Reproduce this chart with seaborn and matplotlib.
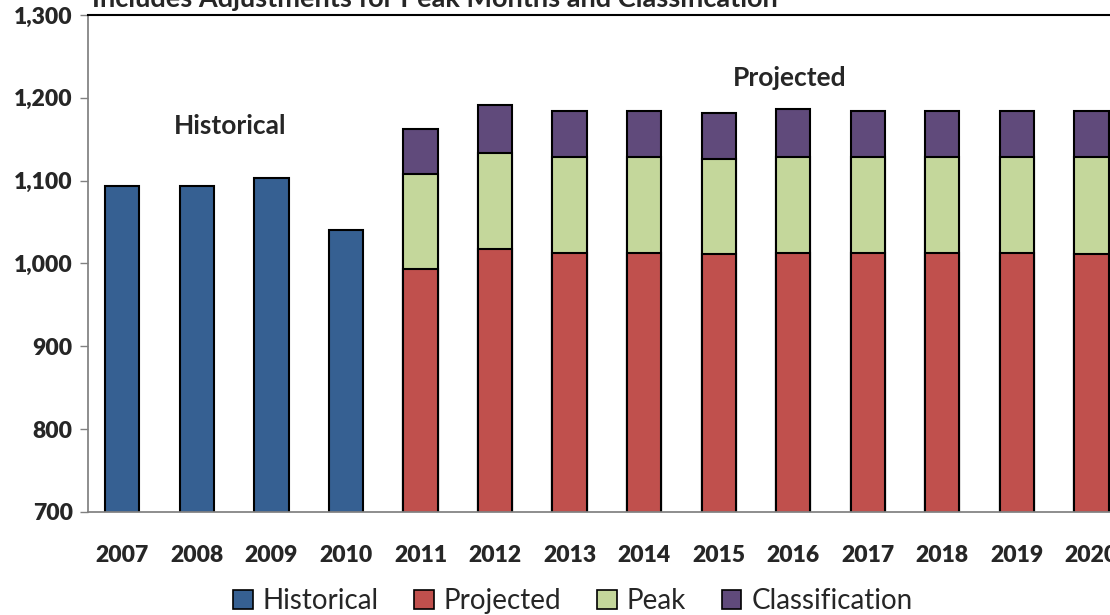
import matplotlib
matplotlib.use("Agg")
import matplotlib.pyplot as plt
import matplotlib.ticker as ticker
from matplotlib.patches import Patch
import pandas as pd
import seaborn as sns

years = [str(y) for y in range(2007, 2021)]
hist_years = ["2007", "2008", "2009", "2010"]
historical = [1094, 1094, 1103, 1040]
proj_years = [str(y) for y in range(2011, 2021)]
projected = [993, 1017, 1013, 1013, 1011, 1013, 1013, 1013, 1013, 1011]
peak = [115, 117, 115, 115, 115, 115, 115, 115, 115, 117]
classification = [54, 57, 56, 56, 56, 58, 56, 56, 56, 56]

colors = {"Historical": "#366092", "Projected": "#C0504D",
          "Peak": "#C4D79B", "Classification": "#604A7B"}

sns.set_theme(style="white")
plt.rcParams["font.family"] = ["Lato", "DejaVu Sans"]

df_hist = pd.DataFrame({"year": hist_years, "value": historical})
df_proj = pd.DataFrame({"year": proj_years, "projected": projected,
                        "peak": peak, "classification": classification})
# cumulative tops, drawn back to front so the layers look stacked
df_proj["peak_top"] = df_proj.projected + df_proj.peak
df_proj["class_top"] = df_proj.peak_top + df_proj.classification

fig = plt.figure(figsize=(11.1, 6.15), dpi=100)
ax = fig.add_axes([0.0793, 0.1675, 0.9207, 0.8081])

bar_kw = dict(order=years, width=0.46, edgecolor="black", linewidth=1.5,
              saturation=1, ax=ax)
sns.barplot(data=df_proj, x="year", y="class_top", color=colors["Classification"], **bar_kw)
sns.barplot(data=df_proj, x="year", y="peak_top", color=colors["Peak"], **bar_kw)
sns.barplot(data=df_proj, x="year", y="projected", color=colors["Projected"], **bar_kw)
sns.barplot(data=df_hist, x="year", y="value", color=colors["Historical"], **bar_kw)

ax.set_ylim(700, 1300)
ax.set_xlim(-0.46, 13.25)
ax.yaxis.set_major_locator(ticker.MultipleLocator(100))
ax.yaxis.set_major_formatter(ticker.StrMethodFormatter("{x:,.0f}"))
ax.set_xlabel("")
ax.set_ylabel("")

ax.tick_params(axis="y", which="major", left=True, length=6, width=1,
               color="#808080", labelsize=16.5, pad=5)
ax.tick_params(axis="x", length=0, labelsize=16.5, pad=24)
for lbl in ax.get_xticklabels() + ax.get_yticklabels():
    lbl.set_fontweight("heavy")

ax.spines["right"].set_visible(False)
ax.spines["left"].set_color("#808080")
ax.spines["bottom"].set_color("#808080")
ax.spines["top"].set_color("black")
ax.spines["top"].set_linewidth(1.5)

ax.text(1.45, 1166, "Historical", ha="center", va="center",
        fontsize=19, fontweight="bold")
ax.text(8.95, 1224, "Projected", ha="center", va="center",
        fontsize=19, fontweight="bold")

fig.text(0.083, 1 - 7 / 615, "Includes Adjustments for Peak Months and Classification",
         ha="left", va="baseline", fontsize=19.5, fontweight="bold")

handles = [Patch(facecolor=colors[k], edgecolor="black", linewidth=1.2, label=k)
           for k in ["Historical", "Projected", "Peak", "Classification"]]
fig.legend(handles=handles, loc="center", bbox_to_anchor=(0.516, 0.022), ncol=4,
           frameon=False, fontsize=20, handlelength=0.7, handleheight=0.7,
           handletextpad=0.35, columnspacing=1.3)

fig.savefig("out.png", dpi=100)
